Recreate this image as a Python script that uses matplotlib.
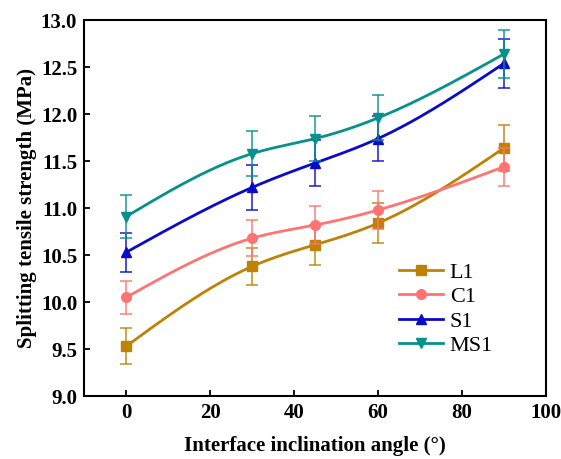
import matplotlib
matplotlib.use("Agg")
import matplotlib.pyplot as plt
import numpy as np

angles = [0, 30, 45, 60, 90]

l1 = [9.53, 10.38, 10.61, 10.84, 11.64]
l1_err = [0.19, 0.20, 0.21, 0.21, 0.24]
c1 = [10.05, 10.68, 10.82, 10.98, 11.44]
c1_err = [0.18, 0.19, 0.20, 0.20, 0.20]
s1 = [10.53, 11.22, 11.48, 11.74, 12.54]
s1_err = [0.21, 0.24, 0.24, 0.24, 0.26]
ms1 = [10.91, 11.58, 11.74, 11.96, 12.64]
ms1_err = [0.23, 0.24, 0.24, 0.24, 0.26]


def _spline(x, y, n=200):
    # natural cubic spline, only used to draw the smooth line
    x = np.asarray(x, float)
    y = np.asarray(y, float)
    k = len(x)
    h = np.diff(x)
    A = np.zeros((k, k))
    b = np.zeros(k)
    A[0, 0] = A[-1, -1] = 1
    for i in range(1, k - 1):
        A[i, i - 1] = h[i - 1]
        A[i, i] = 2 * (h[i - 1] + h[i])
        A[i, i + 1] = h[i]
        b[i] = 6 * ((y[i + 1] - y[i]) / h[i] - (y[i] - y[i - 1]) / h[i - 1])
    m = np.linalg.solve(A, b)
    xs = np.linspace(x[0], x[-1], n)
    idx = np.clip(np.searchsorted(x, xs) - 1, 0, k - 2)
    t = xs - x[idx]
    hi = h[idx]
    a = (m[idx + 1] - m[idx]) / (6 * hi)
    bb = m[idx] / 2
    c = (y[idx + 1] - y[idx]) / hi - hi * (2 * m[idx] + m[idx + 1]) / 6
    ys = y[idx] + c * t + bb * t ** 2 + a * t ** 3
    return xs, ys


plt.rcParams['font.family'] = ['Liberation Serif']
fig = plt.figure(figsize=(5.61, 4.59), dpi=100)
ax = fig.add_axes([0.150, 0.137, 0.823, 0.819])

series = [
    ('L1', l1, l1_err, '#BE8205', 's'),
    ('C1', c1, c1_err, '#FF7373', 'o'),
    ('S1', s1, s1_err, '#0A0ACD', '^'),
    ('MS1', ms1, ms1_err, '#07908C', 'v'),
]

for name, vals, err, col, mk in series:
    xs, ys = _spline(angles, vals)
    ax.plot(xs, ys, color=col, lw=2)
    ax.errorbar(angles, vals, yerr=err, fmt='none', ecolor=col,
                elinewidth=1.2, capsize=4, capthick=1.2, alpha=0.85)
    ax.plot(angles, vals, ls='none', marker=mk, color=col, ms=7)
    ax.plot([], [], color=col, lw=2, marker=mk, ms=7, label=name)

ax.set_xlim(-10, 100)
ax.set_ylim(9.0, 13.0)
ax.set_xticks([0, 20, 40, 60, 80, 100])
ax.set_yticks(np.arange(9.0, 13.01, 0.5))
ax.yaxis.set_major_formatter(matplotlib.ticker.FormatStrFormatter('%.1f'))
ax.tick_params(direction='in', length=4, width=1.3, labelsize=15, pad=5)
for lbl in ax.get_xticklabels() + ax.get_yticklabels():
    lbl.set_fontweight('bold')
for sp in ax.spines.values():
    sp.set_linewidth(1.5)

ax.set_xlabel('Interface inclination angle (°)', fontsize=15,
              fontweight='bold', labelpad=9)
ax.set_ylabel('Splitting tensile strength (MPa)', fontsize=15,
              fontweight='bold', labelpad=3)

ax.legend(loc='upper left', bbox_to_anchor=(0.638, 0.41), frameon=False,
          fontsize=16, handlelength=2.0, labelspacing=0.18, handletextpad=0.3)

fig.savefig('out.png', dpi=100)
